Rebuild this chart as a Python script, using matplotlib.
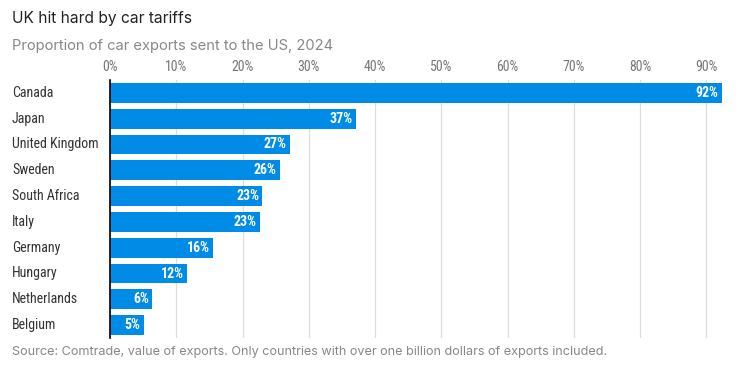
import matplotlib

matplotlib.use("Agg")
import matplotlib.pyplot as plt  # noqa: E402
from matplotlib.transforms import blended_transform_factory  # noqa: E402

countries = ["Canada", "Japan", "United Kingdom", "Sweden", "South Africa",
             "Italy", "Germany", "Hungary", "Netherlands", "Belgium"]
shares = [92.3, 37.1, 27.2, 25.6, 23.0, 22.6, 15.5, 11.6, 6.4, 5.1]
labels = ["92%", "37%", "27%", "26%", "23%", "23%", "16%", "12%", "6%", "5%"]
ticks = [0, 10, 20, 30, 40, 50, 60, 70, 80, 90]

narrow = ["Roboto Condensed", "DejaVu Sans"]
plt.rcParams["font.family"] = ["Inter", "DejaVu Sans"]

W, H = 744, 371
fig = plt.figure(figsize=(W / 100, H / 100), dpi=100)
ax = fig.add_axes([110 / W, 1 - 338 / H, (723 - 110) / W, (338 - 80) / H])

y = list(range(len(countries)))
ax.barh(y, shares, height=0.77, color="#008be6", zorder=2)
for yi, v, lab in zip(y, shares, labels):
    ax.text(v - 0.5, yi, lab, ha="right", va="center", color="white",
            fontsize=10, fontweight="bold", family=narrow, zorder=3)

ax.set_xlim(0, 92.5)
ax.set_ylim(len(countries) - 0.5, -0.5)
ax.set_xticks(ticks)
ax.set_xticklabels([f"{t}%" for t in ticks], family=narrow, fontsize=10, color="#777777")
ax.xaxis.tick_top()
ax.tick_params(axis="x", length=0, pad=4)
ax.set_yticks([])
ax.grid(axis="x", color="#dddddd", lw=0.9, zorder=0)
for s in ["top", "right", "bottom"]:
    ax.spines[s].set_visible(False)
ax.spines["left"].set_color("black")
ax.spines["left"].set_linewidth(1.2)
ax.spines["left"].set_zorder(4)

# country names sit at the figure's left margin, aligned with the bars
lab_tf = blended_transform_factory(fig.transFigure, ax.transData)
for yi, c in zip(y, countries):
    ax.text(12 / W, yi, c, transform=lab_tf, family=narrow, fontsize=10,
            color="#333333", va="center", ha="left")

fig.text(12 / W, 1 - 18 / H, "UK hit hard by car tariffs", fontsize=11.2, color="#222222", va="center")
fig.text(12 / W, 1 - 46 / H, "Proportion of car exports sent to the US, 2024", fontsize=10.6,
         color="#888888", va="center")
fig.text(12 / W, 1 - 352 / H,
         "Source: Comtrade, value of exports. Only countries with over one billion dollars of exports included.",
         fontsize=9.1, color="#888888", va="center")

fig.savefig("out.png", dpi=100)
